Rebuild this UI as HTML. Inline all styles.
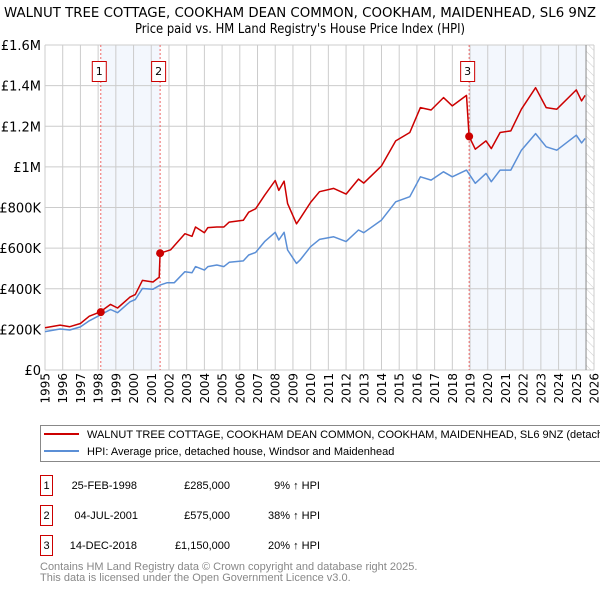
<!DOCTYPE html>
<html><head><meta charset="utf-8"><style>
body{margin:0;background:#fff}
svg{display:block;font-family:"DejaVu Sans","Liberation Sans",sans-serif}
.lib{font-family:"Liberation Sans",sans-serif}
</style></head><body>
<svg id="c" width="600" height="590" viewBox="0 0 600 590">
<defs><pattern id="hatch" width="6" height="6" patternUnits="userSpaceOnUse" patternTransform="rotate(-45)"><line x1="0" y1="0" x2="0" y2="6" stroke="#ccc" stroke-width="1"/></pattern></defs>
<text x="300" y="17" text-anchor="middle" font-size="13" textLength="592" lengthAdjust="spacingAndGlyphs">WALNUT TREE COTTAGE, COOKHAM DEAN COMMON, COOKHAM, MAIDENHEAD, SL6 9NZ</text>
<text x="300" y="33" text-anchor="middle" font-size="13" textLength="330" lengthAdjust="spacingAndGlyphs">Price paid vs. HM Land Registry's House Price Index (HPI)</text>
<g id="plot"></g>
<g class="lib">
<rect x="40.5" y="425.5" width="570" height="36" fill="#fff" stroke="#888"/>
<line x1="44" y1="434" x2="79" y2="434" stroke="#cc0000" stroke-width="2"/>
<text x="87" y="438" font-size="11">WALNUT TREE COTTAGE, COOKHAM DEAN COMMON, COOKHAM, MAIDENHEAD, SL6 9NZ (detached house)</text>
<line x1="44" y1="451" x2="79" y2="451" stroke="#5b8fd6" stroke-width="2"/>
<text x="87" y="455" font-size="11">HPI: Average price, detached house, Windsor and Maidenhead</text>
</g>
<g class="lib" font-size="11">
<rect x="40.5" y="475.5" width="12" height="20" fill="#fff" stroke="#cc0000"/><text x="46.5" y="489" text-anchor="middle">1</text>
<text x="137" y="489" text-anchor="end">25-FEB-1998</text><text x="230" y="489" text-anchor="end">£285,000</text><text x="320" y="489" text-anchor="end">9% ↑ HPI</text>
<rect x="40.5" y="505.5" width="12" height="20" fill="#fff" stroke="#cc0000"/><text x="46.5" y="519" text-anchor="middle">2</text>
<text x="138" y="519" text-anchor="end">04-JUL-2001</text><text x="230" y="519" text-anchor="end">£575,000</text><text x="320" y="519" text-anchor="end">38% ↑ HPI</text>
<rect x="40.5" y="535.5" width="12" height="20" fill="#fff" stroke="#cc0000"/><text x="46.5" y="549" text-anchor="middle">3</text>
<text x="137" y="549" text-anchor="end">14-DEC-2018</text><text x="230" y="549" text-anchor="end">£1,150,000</text><text x="320" y="549" text-anchor="end">20% ↑ HPI</text>
</g>
<text class="lib" x="40" y="570" font-size="11" fill="#888">Contains HM Land Registry data © Crown copyright and database right 2025.</text>
<text class="lib" x="40" y="581" font-size="11" fill="#888">This data is licensed under the Open Government Licence v3.0.</text>
</svg>
<script>
const hpiYears=[1995.0,1995.85,1996.4,1997.0,1997.5,1998.1,1998.7,1999.1,1999.8,2000.1,2000.5,2001.1,2001.5,2001.9,2002.3,2002.9,2003.3,2003.5,2004.0,2004.2,2004.7,2005.1,2005.4,2006.2,2006.5,2006.9,2007.4,2008.0,2008.2,2008.5,2008.7,2009.2,2009.4,2010.0,2010.5,2011.3,2012.0,2012.7,2013.0,2014.0,2014.8,2015.6,2016.2,2016.8,2017.5,2018.0,2018.8,2019.3,2019.9,2020.2,2020.7,2021.3,2021.9,2022.7,2023.3,2023.9,2025.0,2025.3,2025.5];
const hpiValues=[189,202,197,212,242,270,298,282,336,347,401,398,418,430,430,484,479,509,492,509,517,509,530,537,566,579,632,678,640,678,591,525,541,607,643,656,632,689,676,738,828,853,951,935,976,951,984,919,968,927,984,984,1082,1164,1099,1082,1156,1118,1140];
const propYears=[1995.0,1995.85,1996.4,1997.0,1997.5,1998.1,1998.7,1999.1,1999.8,2000.1,2000.5,2001.1,2001.45,2001.5,2002.1,2002.9,2003.3,2003.5,2004.0,2004.2,2004.7,2005.1,2005.4,2006.2,2006.5,2006.9,2007.4,2008.0,2008.2,2008.5,2008.7,2009.2,2009.4,2010.0,2010.5,2011.3,2012.0,2012.7,2013.0,2014.0,2014.8,2015.6,2016.2,2016.8,2017.5,2018.0,2018.8,2018.95,2019.3,2019.9,2020.2,2020.7,2021.3,2021.9,2022.7,2023.3,2023.9,2025.0,2025.3,2025.5];
const propValues=[208,221,213,229,265,285,323,305,359,371,441,433,457,575,592,671,658,704,676,701,704,704,728,737,777,794,860,933,884,930,819,720,745,825,878,894,866,940,920,1005,1128,1169,1292,1280,1341,1300,1352,1150,1087,1128,1090,1169,1177,1284,1390,1292,1284,1379,1325,1352];
const saleYears=[1998.15,2001.5,2018.95];
const saleValues=[285,575,1150];
const saleLabels=["1","2","3"];
const yTicks=[0,200,400,600,800,1000,1200,1400,1600];
const yTickLabels=["£0","£200K","£400K","£600K","£800K","£1M","£1.2M","£1.4M","£1.6M"];
const xTicks=[1995,1996,1997,1998,1999,2000,2001,2002,2003,2004,2005,2006,2007,2008,2009,2010,2011,2012,2013,2014,2015,2016,2017,2018,2019,2020,2021,2022,2023,2024,2025,2026];
const dataEnd=2025.55;

const X0=45,X1=594,Y0=370,Y1=45;
const xs=y=>X0+(y-1995)/(2026-1995)*(X1-X0);
const ys=v=>Y0-v/1600*(Y0-Y1);
const NS='http://www.w3.org/2000/svg';
const g=document.getElementById('plot');
function mk(t,a,p){const e=document.createElementNS(NS,t);for(const k in a)e.setAttribute(k,a[k]);(p||g).appendChild(e);return e;}

const s1=mk('rect',{x:xs(saleYears[0]),y:Y1,width:xs(saleYears[1])-xs(saleYears[0]),height:Y0-Y1,fill:'#eef3fc',opacity:0.7});


const s2=mk('rect',{x:xs(saleYears[2]),y:Y1,width:xs(dataEnd)-xs(saleYears[2]),height:Y0-Y1,fill:'#eef3fc',opacity:0.7});


const hz=mk('rect',{x:xs(dataEnd),y:Y1,width:X1-xs(dataEnd),height:Y0-Y1,fill:'url(#hatch)'});



yTicks.forEach((v,i)=>{
  const l=mk('line',{x1:X0,x2:X1,y1:ys(v),y2:ys(v),stroke:'#ccc','stroke-width':1});
  
  
  const t=mk('text',{x:X0-4,y:ys(v)+5,'text-anchor':'end','font-size':13});
  t.textContent=yTickLabels[i];
  
  
});
xTicks.forEach(yr=>{
  const l=mk('line',{x1:xs(yr),x2:xs(yr),y1:Y1,y2:Y0,stroke:'#ccc','stroke-width':1});
  
  
  const t=mk('text',{x:0,y:0,'font-size':12,'text-anchor':'end',transform:`translate(${xs(yr)+4.5},373) rotate(-90)`});
  t.textContent=yr;
  
  
});
const ed=mk('line',{x1:xs(dataEnd),x2:xs(dataEnd),y1:Y1,y2:Y0,stroke:'#888','stroke-width':1});



saleYears.forEach((yr,i)=>{
  const l=mk('line',{x1:xs(yr),x2:xs(yr),y1:Y1,y2:Y0,stroke:'#e66','stroke-width':1,'stroke-dasharray':'2,2'});
  
  
});

function path(xa,va,col,name){
  const d=xa.map((x,i)=>(i?'L':'M')+xs(x).toFixed(1)+','+ys(va[i]).toFixed(1)).join('');
  const p=mk('path',{d:d,fill:'none',stroke:col,'stroke-width':1.5,'stroke-linejoin':'round'});
  
  
}
path(hpiYears,hpiValues,'#5b8fd6','hpi-line');
path(propYears,propValues,'#cc0000','property-line');

saleYears.forEach((yr,i)=>{
  const c=mk('circle',{cx:xs(yr),cy:ys(saleValues[i]),r:4,fill:'#cc0000'});
  
  
  const r=mk('rect',{x:xs(yr)-8.5,y:61.5,width:14,height:20,fill:'#fff',stroke:'#cc0000'});
  
  
  const t=mk('text',{x:xs(yr)-1.5,y:75,'text-anchor':'middle','font-size':11});
  t.textContent=saleLabels[i];
  
  
});
</script>
</body></html>
